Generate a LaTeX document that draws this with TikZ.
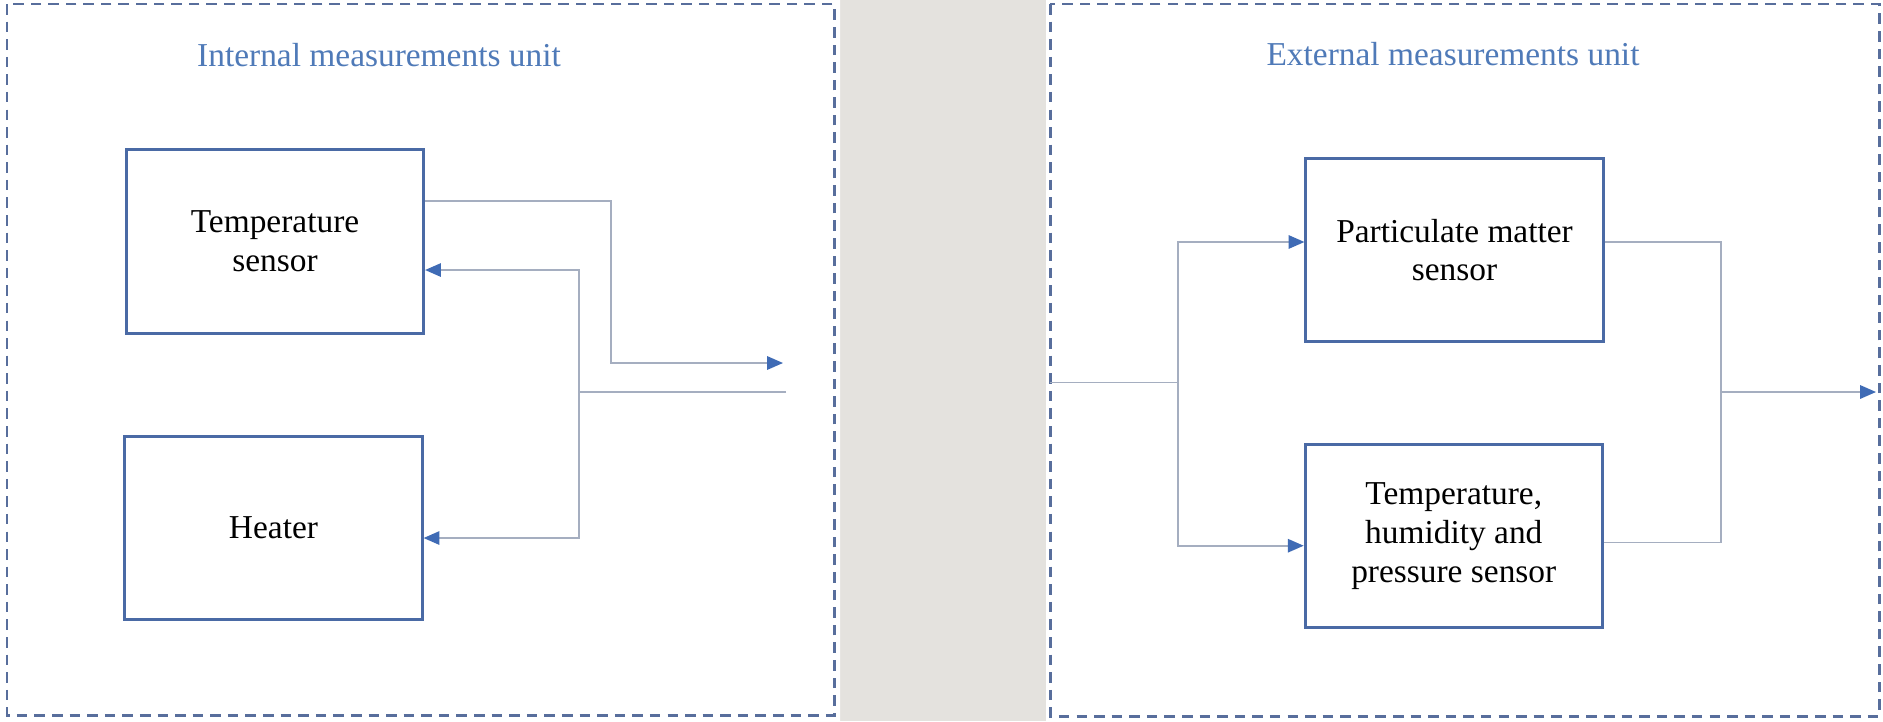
\documentclass[tikz,border=0pt]{standalone}
\usepackage{fontspec}
\setmainfont{Liberation Serif}
\usepackage{tikz}
\usetikzlibrary{arrows.meta,positioning,calc}
\usepackage{xcolor}
\definecolor{frame}{RGB}{88,110,156}
\definecolor{boxline}{RGB}{74,106,165}
\definecolor{wire}{RGB}{165,174,192}
\definecolor{tip}{RGB}{63,107,181}
\definecolor{title}{RGB}{79,122,184}
\definecolor{divider}{RGB}{228,226,222}

\begin{document}
\begin{tikzpicture}[x=0.01cm,y=-0.01cm,
    unit/.style={draw=frame,line width=0.85pt,dash pattern=on 3pt off 2pt},
    block/.style={draw=boxline,line width=0.85pt,fill=white,minimum width=2.97cm,
        minimum height=1.83cm,align=center,font=\fontsize{9.5}{11}\selectfont},
    head/.style={anchor=base,text=title,font=\fontsize{9.5}{11}\selectfont},
    link/.style={draw=wire,line width=0.5pt},
    arr/.style={-{Triangle[length=4.5pt,width=3.8pt,color=tip]}}]
    \useasboundingbox (0,0) rectangle (1883,721);
    % grey strip between the units
    \fill[divider] (840,0) rectangle (1046,721);
    \fill[white] (0,0) rectangle (840,721) (1046,0) rectangle (1883,721);

    % Internal measurements unit
    \draw[unit] (7,4) rectangle (834,715);
    \node[head] (ttlL) at (379,66) {Internal measurements unit};
    \node[block] (tsens) at (275,241.5) {Temperature\\sensor};
    \node[block] (heater) at (273.5,528) {Heater};
    \coordinate (outL) at (783,363);
    \coordinate (inL) at (786,392);
    \coordinate (jL) at (579,392);
    \draw[link,arr] ([yshift=0.405cm]tsens.east) -- ++(186,0) |- (outL);
    \draw[link] (inL) -- (jL);
    \draw[link,arr] (jL) |- ([yshift=-0.285cm]tsens.east);
    \draw[link,arr] (jL) |- ([yshift=-0.1cm]heater.east);

    % External measurements unit
    \draw[unit] (1050,4) rectangle (1879,716);
    \node[head] (ttlR) at (1453,65) {External measurements unit};
    \node[block] (pm) at (1454.5,250) {Particulate matter\\sensor};
    \node[block] (thp) at (1453.75,536) {Temperature,\\humidity and\\pressure sensor};
    \coordinate (inR) at (1050,382.5);
    \coordinate (jR) at (1178,382.5);
    \coordinate (jO) at (1721,392);
    \coordinate (outR) at (1876,392);
    \draw[link] (inR) -- (jR);
    \draw[link,arr] (jR) |- ([yshift=0.08cm]pm.west);
    \draw[link,arr] (jR) |- ([yshift=-0.097cm]thp.west);
    \draw[link] ([yshift=0.08cm]pm.east) -| (jO);
    \draw[link] ([yshift=-0.065cm]thp.east) -| (jO);
    \draw[link,arr] (jO) -- (outR);
\end{tikzpicture}
\end{document}
